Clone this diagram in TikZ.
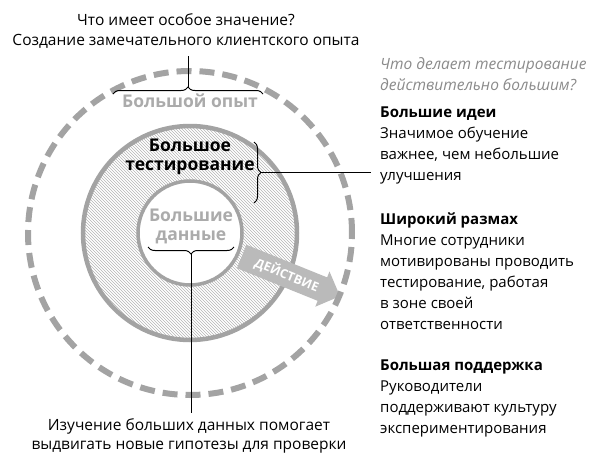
\documentclass[tikz,border=0pt]{standalone}
\usepackage{fontspec}
\setmainfont{Open Sans}
\usetikzlibrary{patterns,decorations.pathreplacing,shapes.arrows}

\definecolor{ringgray}{HTML}{A3A3A3}
\definecolor{labelgray}{HTML}{ABABAB}
\definecolor{askgray}{HTML}{8A8A8A}

\tikzset{
	ring/.style={draw=ringgray, line width=4.5pt},
	biglabel/.style={font=\bfseries\fontsize{17.5}{19}\selectfont, align=center},
	caption/.style={font=\fontsize{15.5}{19.5}\selectfont, align=center},
	sidetext/.style={font=\fontsize{15}{21}\selectfont, align=left, anchor=north west, inner sep=0pt},
	bracket/.style={decorate, decoration={brace, amplitude=7pt}, line width=1pt},
	pointer/.style={line width=1pt},
}

\begin{document}
\begin{tikzpicture}[x=1pt,y=-1pt]
		\useasboundingbox (0,0) rectangle (598,466);
		\coordinate (centre) at (190,233);
		% rings
		\fill[pattern=north west lines, pattern color=ringgray!80] (centre) circle (107pt);
		\draw[ring] (centre) circle (107pt);
		\node[single arrow, fill=ringgray!75, rotate=-22, minimum height=106pt, minimum width=38pt, single arrow head extend=6pt, inner sep=4.5pt, text=white, font=\bfseries\fontsize{12.5}{12.5}\selectfont] (action) at (285,274) {\hspace{4pt}ДЕЙСТВИЕ\hspace{14pt}};
		\draw[ring, line width=3.5pt, fill=white] (centre) circle (52pt);
		\draw[ringgray, line width=6pt, dash pattern=on 15pt off 8pt] (centre) circle (162pt);
		% labels inside
		\node[biglabel, text=labelgray] (experience) at (190,101) {Большой опыт};
		\node[biglabel] (testing) at (190,157) {Большое\\тестирование};
		\node[biglabel, text=labelgray] (data) at (191,226) {Большие\\данные};
		% top
		\node[caption] (toptext) at (186,31) {Что имеет особое значение?\\Создание замечательного клиентского опыта};
		\coordinate (topleft) at (113,94);
		\coordinate (topright) at (263,94);
		\draw[bracket] (topleft) -- (topright) coordinate[midway, yshift=7pt] (toptip);
		\draw[pointer] (toptip) -- (toptip |- 0,56);
		% right
		\coordinate (sidetop) at (254,142);
		\coordinate (sidebottom) at (254,203);
		\draw[bracket] (sidetop) -- (sidebottom) coordinate[midway, xshift=7pt] (sidetip);
		\coordinate (sideend) at (371,172);
		\draw[pointer] (sidetip) -- (sidetip -| sideend);
		% bottom
		\coordinate (datal) at (148,247);
		\coordinate (datar) at (234,247);
		\draw[bracket] (datar) -- (datal) coordinate[midway, yshift=-7pt] (datatip);
		\node[caption] (bottomtext) at (189,436) {Изучение больших данных помогает\\выдвигать новые гипотезы для проверки};
		\draw[pointer] (datatip) -- (datatip |- 0,413);
		% column
		\node[sidetext, text=askgray, font=\itshape\fontsize{15.5}{21}\selectfont] (ask) at (380,57) {Что делает тестирование\\действительно большим?};
		\node[sidetext] (ideas) at (380,107) {\textbf{Большие идеи}\\Значимое обучение\\важнее, чем небольшие\\улучшения};
		\node[sidetext] (scale) at (380,213) {\textbf{Широкий размах}\\Многие сотрудники\\мотивированы проводить\\тестирование, работая\\в зоне своей\\ответственности};
		\node[sidetext] (support) at (380,360) {\textbf{Большая поддержка}\\Руководители\\поддерживают культуру\\экспериментирования};
\end{tikzpicture}
\end{document}
